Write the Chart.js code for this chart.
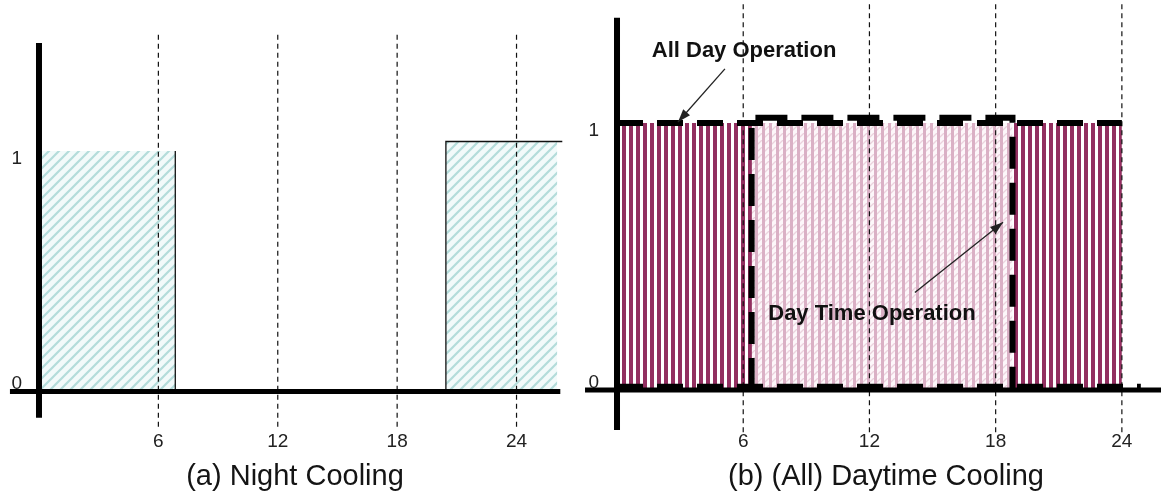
<!DOCTYPE html>
<html>
<head>
<meta charset="utf-8">
<script src="https://cdn.jsdelivr.net/npm/chart.js@4.4.1/dist/chart.umd.min.js"></script>
<style>
  html, body { margin: 0; padding: 0; background: #fff; overflow: hidden; }
  #wrap { position: relative; width: 1161px; height: 492px; }
  canvas { position: absolute; top: 0; }
  .cap { position: absolute; top: 461px; width: 600px; text-align: center;
         font: 29px/29px "Liberation Sans", Arial, sans-serif; color: #141414; white-space: nowrap; }
</style>
</head>
<body>
<div id="wrap">
  <canvas id="night" width="580" height="463" style="left:0"></canvas>
  <canvas id="day" width="581" height="463" style="left:580px"></canvas>
  <div class="cap" style="left:-5px">(a) Night Cooling</div>
  <div class="cap" style="left:586px">(b) (All) Daytime Cooling</div>
</div>
<script>
// hours of the day / operation level (0 = off, 1 = on)
const hourTicks = [6, 12, 18, 24];
const levelTicks = [0, 1];

// (a) night cooling: two blocks
const nightStart = [0, 20.45];
const nightEnd = [6.85, 26.05];
const nightLevel = [1.0, 1.04];

// (b) all day vs day time operation
const allDayHours = [0, 24];
const allDayLevel = 1.0;
const dayTimeHours = [6.4, 18.8];
const dayTimeLevel = 1.02;

// ---- fill patterns ----
function tileCanvas(w, h){
  const c = document.createElement('canvas');
  c.width = w; c.height = h;
  return c;
}
function hatchCyan(){
  const n = 10, c = tileCanvas(n, n), g = c.getContext('2d');
  g.fillStyle = '#f2fafa'; g.fillRect(0, 0, n, n);
  g.strokeStyle = '#b3dcda'; g.lineWidth = 2.2;
  g.beginPath();
  g.moveTo(-1, n + 1); g.lineTo(n + 1, -1);
  g.moveTo(-1, 1); g.lineTo(1, -1);
  g.moveTo(n - 1, n + 1); g.lineTo(n + 1, n - 1);
  g.stroke();
  return g.createPattern(c, 'repeat');
}
function stripesMaroon(){
  const c = tileCanvas(7, 2), g = c.getContext('2d');
  g.fillStyle = '#ffffff'; g.fillRect(0, 0, 7, 2);
  g.fillStyle = '#922f60'; g.fillRect(0, 0, 4, 2);
  return g.createPattern(c, 'repeat');
}
function stripesPink(){
  const c = tileCanvas(7, 7), g = c.getContext('2d');
  g.fillStyle = '#fdf7fa'; g.fillRect(0, 0, 7, 7);
  g.strokeStyle = '#ebd3de'; g.lineWidth = 1.3;
  g.beginPath();
  g.moveTo(-1, 8); g.lineTo(8, -1);
  g.stroke();
  g.fillStyle = '#dab0c5'; g.fillRect(0, 0, 3, 7);
  return g.createPattern(c, 'repeat');
}

// ---- dataset helpers ----
function line(data, color, width, dash, order){
  return { data, borderColor: color, borderWidth: width, borderDash: dash || [],
           pointRadius: 0, pointHoverRadius: 0, fill: false, clip: false,
           spanGaps: false, tension: 0, borderCapStyle: 'butt', order };
}
function area(x0, x1, lvl, pattern, order){
  return { data: [{x: x0, y: lvl}, {x: x1, y: lvl}], borderWidth: 0, borderColor: 'rgba(0,0,0,0)',
           backgroundColor: pattern, fill: 'origin', pointRadius: 0, pointHoverRadius: 0, order };
}
function gridLines(lo, hi){
  return hourTicks.flatMap(h => [{x: h, y: lo}, {x: h, y: hi}, {x: h, y: null}]);
}

const tickFont = { family: '"Liberation Sans", Arial, sans-serif', size: 19 };

function scales(xr, yr, yPad){
  return {
    x: { type: 'linear', min: xr[0], max: xr[1],
         grid: { display: false, drawTicks: false }, border: { display: false },
         ticks: { font: tickFont, color: '#222', padding: 0, maxRotation: 0, autoSkip: false },
         afterBuildTicks: s => { s.ticks = hourTicks.map(v => ({ value: v })); },
         afterFit: s => { s.height = 33; } },
    y: { type: 'linear', min: yr[0], max: yr[1],
         grid: { display: false, drawTicks: false }, border: { display: false },
         ticks: { font: Object.assign({ lineHeight: 0.8 }, tickFont), color: '#222', padding: yPad,
                  // the 0 sits just above the axis, the 1 just under its level
                  callback: v => v === 0 ? ['0', ''] : ['', String(v)] },
         afterBuildTicks: s => { s.ticks = levelTicks.map(v => ({ value: v })); },
         afterFit: s => { s.width = 30; } }
  };
}

// text + arrow callouts, placed in data units
const notesPlugin = {
  id: 'notes',
  afterDatasetsDraw(chart, args, opts){
    const items = opts.items || [];
    const { ctx } = chart, sx = chart.scales.x, sy = chart.scales.y;
    ctx.save();
    items.forEach(n => {
      ctx.font = 'bold 22px "Liberation Sans", Arial, sans-serif';
      ctx.fillStyle = '#111'; ctx.textAlign = 'center'; ctx.textBaseline = 'middle';
      ctx.fillText(n.text, sx.getPixelForValue(n.at[0]), sy.getPixelForValue(n.at[1]));
      const x0 = sx.getPixelForValue(n.from[0]), y0 = sy.getPixelForValue(n.from[1]);
      const x1 = sx.getPixelForValue(n.to[0]), y1 = sy.getPixelForValue(n.to[1]);
      ctx.strokeStyle = '#222'; ctx.lineWidth = 1.3;
      ctx.beginPath(); ctx.moveTo(x0, y0); ctx.lineTo(x1, y1); ctx.stroke();
      const a = Math.atan2(y1 - y0, x1 - x0), L = 13, W = 4.5;
      ctx.beginPath();
      ctx.moveTo(x1, y1);
      ctx.lineTo(x1 - L * Math.cos(a) + W * Math.sin(a), y1 - L * Math.sin(a) - W * Math.cos(a));
      ctx.lineTo(x1 - L * Math.cos(a) - W * Math.sin(a), y1 - L * Math.sin(a) + W * Math.cos(a));
      ctx.closePath();
      ctx.fillStyle = '#222'; ctx.fill();
    });
    ctx.restore();
  }
};

const baseOpts = {
  responsive: false, animation: false, devicePixelRatio: 1,
  layout: { padding: 0 },
  events: []
};

// ---- (a) Night Cooling ----
const hatch = hatchCyan();
const nightSets = [
  line([{x: 0, y: -0.109}, {x: 0, y: 1.45}], '#000', 6, null, 0),
  line([{x: -1.46, y: 0}, {x: 26.2, y: 0}], '#000', 5, null, 0),
  line(gridLines(-0.147, 1.49), '#111', 1.2, [5, 4], 2),
  line([{x: nightEnd[0], y: nightLevel[0]}, {x: nightEnd[0], y: 0}], '#111', 1.3, null, 2),
  line([{x: nightStart[1], y: 0}, {x: nightStart[1], y: nightLevel[1]}, {x: nightEnd[1] + 0.25, y: nightLevel[1]}], '#111', 1.3, null, 2)
];
nightStart.forEach((s, i) => nightSets.push(area(s, nightEnd[i], nightLevel[i], hatch, 6)));

new Chart(document.getElementById('night'), {
  type: 'line',
  data: { datasets: nightSets },
  options: Object.assign({}, baseOpts, {
    scales: scales([-0.452, 27.19], [-0.160, 1.532], 8),
    plugins: { legend: { display: false }, tooltip: { enabled: false }, title: { display: false } }
  })
});

// ---- (b) (All) Daytime Cooling ----
const dashBold = [26, 14];
const daySets = [
  line([{x: 0, y: -0.15}, {x: 0, y: 1.395}], '#000', 6, null, 0),
  line([{x: -1.52, y: 0}, {x: 25.9, y: 0}], '#000', 5, null, 0),
  // all day outline (top and bottom)
  line([{x: allDayHours[0], y: allDayLevel}, {x: allDayHours[1], y: allDayLevel}], '#000', 6, dashBold, 1),
  line([{x: allDayHours[0], y: 0.012}, {x: allDayHours[1] + 0.9, y: 0.012}], '#000', 6, dashBold, 1),
  // day time outline
  line([{x: dayTimeHours[0], y: 0}, {x: dayTimeHours[0], y: dayTimeLevel},
        {x: dayTimeHours[1], y: dayTimeLevel}, {x: dayTimeHours[1], y: 0}], '#000', 6, [32, 14], 1),
  line(gridLines(-0.158, 1.46), '#111', 1.2, [5, 4], 3),
  area(dayTimeHours[0], dayTimeHours[1], allDayLevel, stripesPink(), 5),
  area(allDayHours[0], allDayHours[1], allDayLevel, stripesMaroon(), 6)
];

new Chart(document.getElementById('day'), {
  type: 'line',
  data: { datasets: daySets },
  options: Object.assign({}, baseOpts, {
    scales: scales([-0.333, 25.86], [-0.150, 1.363], 11),
    plugins: {
      legend: { display: false }, tooltip: { enabled: false }, title: { display: false },
      notes: { items: [
        { text: 'All Day Operation', at: [6.04, 1.271], from: [5.13, 1.203], to: [2.9, 1.004] },
        { text: 'Day Time Operation', at: [12.12, 0.286], from: [14.16, 0.365], to: [18.35, 0.628] }
      ] }
    }
  }),
  plugins: [notesPlugin]
});
</script>
</body>
</html>
